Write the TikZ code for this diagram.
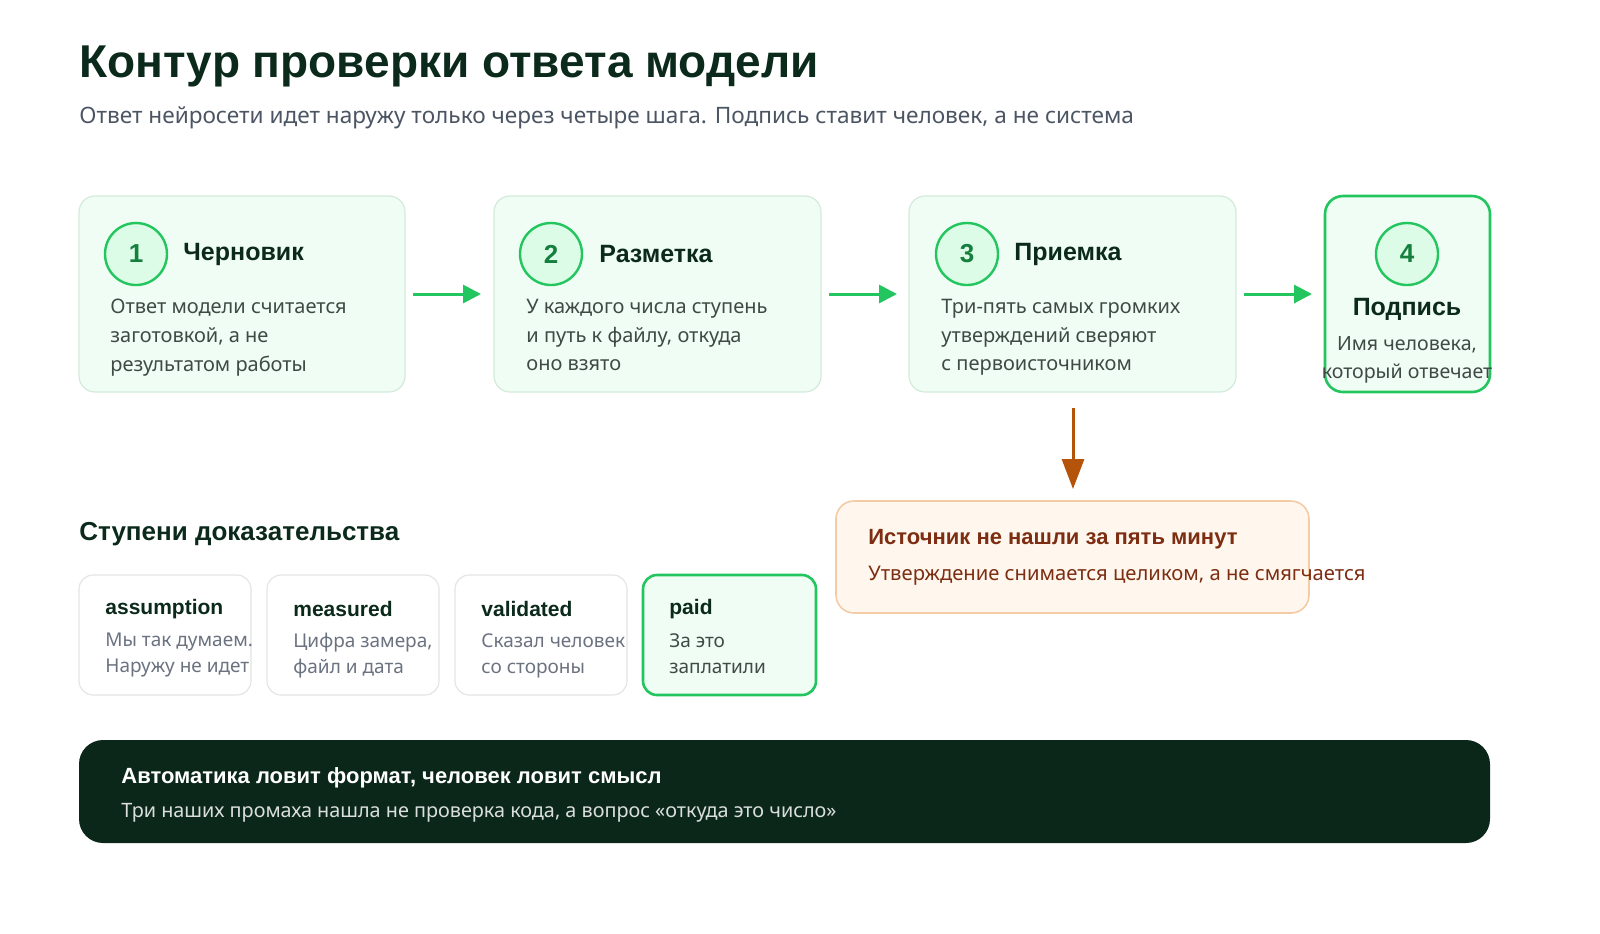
\documentclass[tikz,border=0pt]{standalone}
\usepackage{fontspec}
\usetikzlibrary{arrows.meta}
\setmainfont{Noto Sans}[BoldFont={Liberation Sans Bold}]
\begin{document}
\definecolor{gfill}{HTML}{F0FDF4}
\definecolor{gbord}{HTML}{D3EBDA}
\definecolor{gr}{HTML}{22C55E}
\definecolor{grd}{HTML}{15803D}
\definecolor{cfill}{HTML}{DCFCE7}
\definecolor{ink}{HTML}{0B2A1B}
\definecolor{body}{HTML}{3F4A45}
\definecolor{sub}{HTML}{4B5563}
\definecolor{ofill}{HTML}{FFF7ED}
\definecolor{obord}{HTML}{F3CBA5}
\definecolor{otext}{HTML}{7C2D12}
\definecolor{oarr}{HTML}{B45309}
\definecolor{dark}{HTML}{0A2719}
\definecolor{greyb}{HTML}{E3E6E4}
\definecolor{greyt}{HTML}{6B7280}
\begin{tikzpicture}[x=0.5pt,y=-0.5pt,
  stepbox/.style={draw=gbord,fill=gfill,rounded corners=8pt,line width=0.6pt},
  num/.style={circle,draw=gr,fill=cfill,line width=1.2pt,minimum size=31pt,inner sep=0,text=grd,font=\bfseries\fontsize{13}{13}\selectfont},
  stitle/.style={anchor=west,text=ink,font=\bfseries\fontsize{12.5}{14}\selectfont,inner sep=0},
  sbody/.style={anchor=north west,text=body,font=\fontsize{10}{14.3}\selectfont,align=left,inner sep=0},
  arr/.style={draw=gr,line width=1.5pt,-{Triangle[length=9pt,width=9pt]}},
  tier/.style={draw=greyb,fill=white,rounded corners=7pt,line width=0.6pt},
  ttitle/.style={anchor=west,text=ink,font=\bfseries\fontsize{10.5}{12}\selectfont,inner sep=0},
  tbody/.style={anchor=north west,text=greyt,font=\fontsize{9.5}{13}\selectfont,align=left,inner sep=0}]
\useasboundingbox (0,0) rectangle (1600,933);
\node[anchor=west,inner sep=0,text=ink,font=\bfseries\fontsize{23}{24}\selectfont] (title) at (79,66) {Контур проверки ответа модели};
\node[anchor=west,inner sep=0,text=sub,font=\fontsize{11.3}{12}\selectfont] (subt) at (79,118) {Ответ нейросети идет наружу только через четыре шага. Подпись ставит человек, а не система};
% steps
\draw[stepbox] (79,196) rectangle (405,392);
\node[num] (n1) at (136,254) {1}; \node[stitle] (t1) at (183,254) {Черновик};
\node[sbody] (d1) at (110,299) {Ответ модели считается\\заготовкой, а не\\результатом работы};
\draw[stepbox] (494,196) rectangle (821,392);
\node[num] (n2) at (551,254) {2}; \node[stitle] (t2) at (599,254) {Разметка};
\node[sbody] (d2) at (526,299) {У каждого числа ступень\\и путь к файлу, откуда\\оно взято};
\draw[stepbox] (909,196) rectangle (1236,392);
\node[num] (n3) at (967,254) {3}; \node[stitle] (t3) at (1014,254) {Приемка};
\node[sbody] (d3) at (941,299) {Три-пять самых громких\\утверждений сверяют\\с первоисточником};
\draw[draw=gr,fill=gfill,rounded corners=9pt,line width=1.3pt] (1325,196) rectangle (1490,392);
\node[num] (n4) at (1407,254) {4};
\node[text=ink,font=\bfseries\fontsize{12.5}{14}\selectfont,inner sep=0] (t4) at (1407,309) {Подпись};
\node[text=body,font=\fontsize{9.8}{14.3}\selectfont,align=center,inner sep=0] (d4) at (1407,360) {Имя человека,\\который отвечает};
\coordinate (a1s) at (413,294); \coordinate (a1e) at (481,294);
\coordinate (a2s) at (829,294); \coordinate (a2e) at (897,294);
\coordinate (a3s) at (1244,294); \coordinate (a3e) at (1312,294);
\draw[arr] (a1s) -- (a1e); \draw[arr] (a2s) -- (a2e); \draw[arr] (a3s) -- (a3e);
% orange
\coordinate (ds) at (1073,408); \coordinate (de) at (1073,489);
\draw[draw=oarr,line width=1.5pt,-{Triangle[length=15pt,width=11pt]}] (ds) -- (de);
\draw[draw=obord,fill=ofill,rounded corners=9pt,line width=0.8pt] (836,501) rectangle (1309,613);
\node[anchor=west,inner sep=0,text=otext,font=\bfseries\fontsize{11}{12}\selectfont] (ot) at (868,539) {Источник не нашли за пять минут};
\node[anchor=west,inner sep=0,text=otext,font=\fontsize{10.1}{12}\selectfont] (ob) at (868,576) {Утверждение снимается целиком, а не смягчается};
% tiers
\node[anchor=west,inner sep=0,text=ink,font=\bfseries\fontsize{13}{14}\selectfont] (st) at (79,534) {Ступени доказательства};
\draw[tier] (79,575) rectangle (251,695);
\node[ttitle] (a) at (105,609) {assumption};
\node[tbody] (ab) at (105,633) {Мы так думаем.\\Наружу не идет};
\draw[tier] (267,575) rectangle (439,695);
\node[ttitle] (m) at (293,609) {measured};
\node[tbody] (mb) at (293,633) {Цифра замера,\\файл и дата};
\draw[tier] (455,575) rectangle (627,695);
\node[ttitle] (v) at (481,609) {validated};
\node[tbody] (vb) at (481,633) {Сказал человек\\со стороны};
\draw[draw=gr,fill=gfill,rounded corners=7pt,line width=1.3pt] (643,575) rectangle (816,695);
\node[ttitle] (p) at (669,609) {paid};
\node[tbody,text=body] (pb) at (669,633) {За это\\заплатили};
% dark bar
\fill[dark,rounded corners=12pt] (79,740) rectangle (1490,843);
\node[anchor=west,inner sep=0,text=white,font=\bfseries\fontsize{11}{12}\selectfont] (k1) at (121,778) {Автоматика ловит формат, человек ловит смысл};
\node[anchor=west,inner sep=0,text=white!85!dark,font=\fontsize{9.9}{12}\selectfont] (k2) at (121,813) {Три наших промаха нашла не проверка кода, а вопрос «откуда это число»};
\end{tikzpicture}
\end{document}
